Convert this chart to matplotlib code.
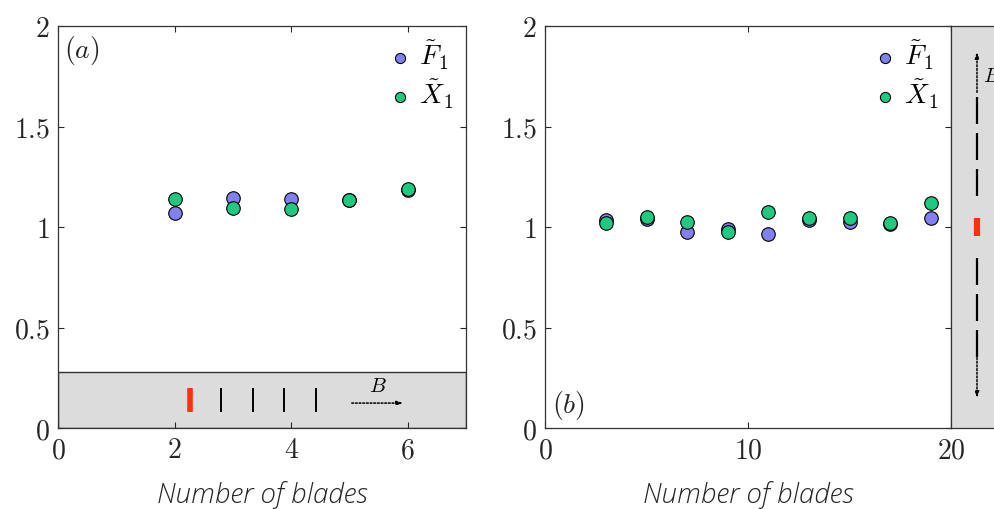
import matplotlib
matplotlib.use("Agg")
import matplotlib.pyplot as plt
from matplotlib.patches import Rectangle
from matplotlib.ticker import FuncFormatter

plt.rcParams["mathtext.fontset"] = "cm"

# ---- data ----
blades_a = [2, 3, 4, 5, 6]
F1_a = [1.071, 1.146, 1.139, 1.133, 1.185]
X1_a = [1.138, 1.096, 1.088, 1.133, 1.189]

blades_b = [3, 5, 7, 9, 11, 13, 15, 17, 19]
F1_b = [1.035, 1.038, 0.977, 0.990, 0.964, 1.035, 1.026, 1.015, 1.046]
X1_b = [1.018, 1.051, 1.026, 0.973, 1.073, 1.043, 1.043, 1.021, 1.118]

xticks_a = [0, 2, 4, 6]
xticks_b = [0, 10, 20]
yticks = [0, 0.5, 1, 1.5, 2]

# schematic rotor sketches (in data units of each axes)
row_blades_x = [2.26, 2.80, 3.34, 3.88, 4.42]      # panel (a): first blade is highlighted
row_blade_span = (0.08, 0.20)
col_blade_offsets = [-0.58, -0.40, -0.22, 0.0, 0.22, 0.40, 0.58]  # panel (b)
col_blade_half = 0.068
col_ref_half = 0.045

BLUE = "#8080f2"
GREEN = "#1fca80"
GRAY = "#dcdcdd"
RED = "#ff3010"
INK = "#262626"

fig = plt.figure(figsize=(9.94, 5.09), dpi=100)
W, H = 994, 509


def frac(x0, y0, x1, y1):
    return [x0 / W, 1 - y1 / H, (x1 - x0) / W, (y1 - y0) / H]


ax_a = fig.add_axes(frac(58, 26, 466, 428))
ax_b = fig.add_axes(frac(545, 26, 951, 428))
ax_s = fig.add_axes(frac(951, 26, 1000, 428))

fmt = FuncFormatter(lambda v, p: f"${v:g}$")
for ax, xt, xl in ((ax_a, xticks_a, (0, 7)), (ax_b, xticks_b, (0, 20))):
    ax.set_xlim(*xl)
    ax.set_ylim(0, 2)
    ax.set_xticks(xt)
    ax.set_yticks(yticks)
    ax.xaxis.set_major_formatter(fmt)
    ax.yaxis.set_major_formatter(fmt)
    ax.tick_params(direction="in", length=4, width=0.8, top=True, right=True,
                   labelsize=20, colors=INK, pad=6)
    for s in ax.spines.values():
        s.set_color("#333333")
        s.set_linewidth(0.9)
    ax.set_xlabel("Number of blades", fontsize=20, family="Open Sans",
                  style="italic", weight="light", color=INK, labelpad=12)

# ---- panel (a) ----
ax_a.add_patch(Rectangle((0, 0), 7, 0.28, facecolor=GRAY, edgecolor="#333333",
                         lw=1.0, zorder=0.5))
for i, bx in enumerate(row_blades_x):
    ax_a.plot([bx, bx], row_blade_span, color=RED if i == 0 else "k",
              lw=4 if i == 0 else 1.4, solid_capstyle="butt", zorder=1)
ax_a.annotate("", xy=(5.92, 0.124), xytext=(5.04, 0.124),
              arrowprops=dict(arrowstyle="-|>,head_length=0.35,head_width=0.12",
                              linestyle=(0, (1.2, 1.2)), lw=1.1, color="k",
                              shrinkA=0, shrinkB=0))
ax_a.text(5.48, 0.21, "$B$", fontsize=15, ha="center", va="center", color="k")

ax_a.scatter(blades_a, F1_a, s=95, c=BLUE, edgecolors="k", linewidths=0.8,
             zorder=3, label=r"$\tilde{F}_1$")
ax_a.scatter(blades_a, X1_a, s=95, c=GREEN, edgecolors="k", linewidths=0.8,
             zorder=3, label=r"$\tilde{X}_1$")
ax_a.text(0.1, 1.88, "$(a)$", fontsize=20, ha="left", va="center", color=INK)

# ---- panel (b) ----
ax_b.scatter(blades_b, F1_b, s=95, c=BLUE, edgecolors="k", linewidths=0.8,
             zorder=3, label=r"$\tilde{F}_1$")
ax_b.scatter(blades_b, X1_b, s=95, c=GREEN, edgecolors="k", linewidths=0.8,
             zorder=3, label=r"$\tilde{X}_1$")
ax_b.text(0.35, 0.11, "$(b)$", fontsize=20, ha="left", va="center", color=INK)

for ax in (ax_a, ax_b):
    ax.legend(loc="upper right", frameon=False, fontsize=20, handletextpad=0.1,
              markerscale=0.75, borderaxespad=0.25, labelspacing=0.2,
              handlelength=1.2, borderpad=0.2)

# ---- side sketch for panel (b) ----
ax_s.set_facecolor(GRAY)
ax_s.set_xlim(0, 49)
ax_s.set_ylim(0, 2)
ax_s.set_xticks([])
ax_s.set_yticks([])
for s in ax_s.spines.values():
    s.set_color("#333333")
    s.set_linewidth(0.9)
cx = 26
for off in col_blade_offsets:
    if off == 0:
        ax_s.plot([cx, cx], [1 - col_ref_half, 1 + col_ref_half], color=RED, lw=4.5,
                  solid_capstyle="butt")
    else:
        ax_s.plot([cx, cx], [1 + off - col_blade_half, 1 + off + col_blade_half],
                  color="k", lw=1.6, solid_capstyle="butt")
for y0, y1 in ((1.67, 1.87), (0.35, 0.15)):
    ax_s.annotate("", xy=(cx, y1), xytext=(cx, y0),
                  arrowprops=dict(arrowstyle="-|>,head_length=0.35,head_width=0.12",
                                  linestyle=(0, (1.2, 1.2)), lw=1.1, color="k",
                                  shrinkA=0, shrinkB=0))
ax_s.text(32, 1.75, "$B$", fontsize=15, ha="left", va="center", color="k",
          clip_on=False)

fig.savefig("out.png", dpi=100)
